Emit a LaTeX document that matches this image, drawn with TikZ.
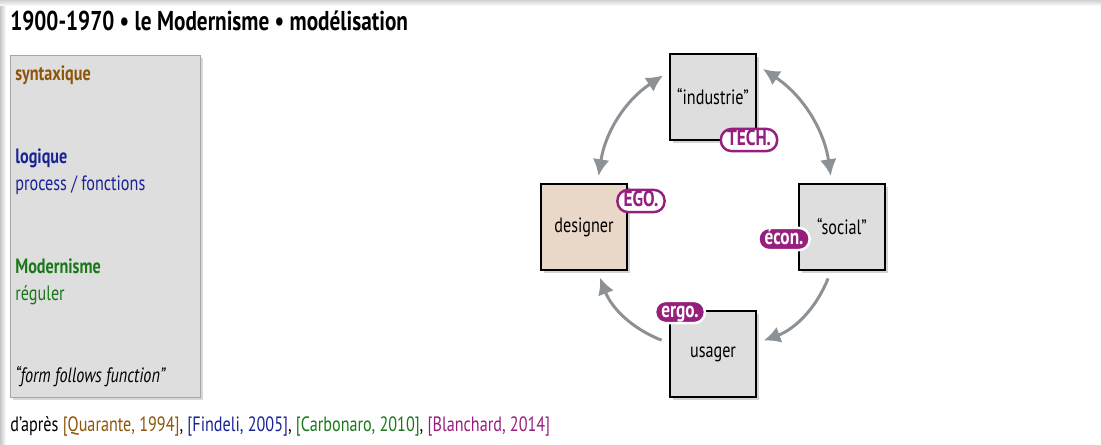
\documentclass[tikz,border=0pt]{standalone}
\usepackage{fontspec}
\setmainfont{PT Sans}[FakeStretch=0.78]
\usepackage{tikz}
\usetikzlibrary{arrows.meta,shadows}
\definecolor{mag}{RGB}{150,30,125}
\definecolor{brun}{RGB}{140,85,10}
\definecolor{bleu}{RGB}{25,35,150}
\definecolor{vert}{RGB}{25,120,25}
\definecolor{fleche}{RGB}{140,145,150}
\definecolor{boite}{RGB}{222,222,222}
\definecolor{beige}{RGB}{233,216,200}

\begin{document}
\begin{tikzpicture}[x=0.02cm,y=-0.02cm]

      \tikzstyle{acteur}=[draw=black,line width=1.2pt,fill=boite,minimum size=1.72cm,inner sep=0pt,
        font=\fontsize{11.8}{13}\selectfont,drop shadow={opacity=0.35,shadow xshift=1.5pt,shadow yshift=-1.5pt}]
      \tikzstyle{pastille}=[draw=mag,line width=1.4pt,fill=white,text=mag,rounded corners=6pt,
        inner xsep=3.5pt,inner ysep=2pt,text height=0.72em,text depth=0.14em,
        font=\fontsize{12.6}{13}\bfseries\selectfont]
      \tikzstyle{pleine}=[pastille,draw=white,fill=mag,text=white]
      \tikzstyle{texte}=[anchor=base west,inner sep=0pt,font=\fontsize{11.8}{13}\selectfont]
      \tikzstyle{lien}=[draw=fleche,line width=1.7pt,shorten <=4.5pt,shorten >=4pt,
        arrows={-Latex[length=9.5pt,width=9.5pt]}]

  \useasboundingbox (0,0) rectangle (1101,444);
  % bords de la diapo
  \shade[top color=black!18,bottom color=white] (0,0) rectangle (1101,6);
  \shade[left color=black!22,right color=white] (0,6) rectangle (6,444);

  \node[texte,font=\fontsize{15.5}{18}\bfseries\selectfont] (titre) at (10,30)
    {1900-1970 • le Modernisme • modélisation};

  % colonne de gauche
  \node[draw=black!35,fill=boite,minimum width=3.8cm,minimum height=6.84cm,inner sep=0pt,anchor=north west,
    drop shadow={opacity=0.3,shadow xshift=1.5pt,shadow yshift=-1.5pt}] (colonne) at (10,55) {};
  \node[texte,text=brun,font=\fontsize{11.8}{13}\bfseries\selectfont] (syntaxique) at (15,80) {syntaxique};
  \node[texte,text=bleu,font=\fontsize{11.8}{13}\bfseries\selectfont] (logique) at (15,163) {logique};
  \node[texte,text=bleu] (process) at (15,190) {process / fonctions};
  \node[texte,text=vert,font=\fontsize{11.8}{13}\bfseries\selectfont] (modernisme) at (15,273) {Modernisme};
  \node[texte,text=vert] (reguler) at (15,300) {réguler};
  \node[texte,font=\fontsize{11.8}{13}\itshape\selectfont] (ffb) at (15,382) {“form follows function”};

  \node[texte] (sources) at (10,431)
    {d’après \textcolor{brun}{[Quarante, 1994]}, \textcolor{bleu}{[Findeli, 2005]}, \textcolor{vert}{[Carbonaro, 2010]}, \textcolor{mag}{[Blanchard, 2014]}};

  % le cycle
  \node[acteur] (industrie) at (713,97)  {“industrie”};
  \node[acteur,fill=beige] (designer) at (584,227) {designer};
  \node[acteur] (social)    at (842,227) {“social”};
  \node[acteur] (usager)    at (713,354) {usager};

  \draw[lien,arrows={Latex[length=9.5pt,width=9.5pt]-Latex[length=9.5pt,width=9.5pt]},shorten <=4pt] (industrie.150) to[bend right=24] (designer.73);
  \draw[lien,arrows={Latex[length=9.5pt,width=9.5pt]-Latex[length=9.5pt,width=9.5pt]},shorten <=4pt] (industrie.36) to[bend left=24] (social.103);
  \draw[lien] (social.256) to[bend left=24] (usager.14);
  \draw[lien] (usager.166) to[bend left=24] (designer.287);

  \node[pastille] (tech) at (749,140) {TECH.};
  \node[pastille] (ego)  at (641,201) {EGO.};
  \node[pleine]   (econ) at (784,239) {écon.};
  \node[pleine]   (ergo) at (680,312) {ergo.};

\end{tikzpicture}
\end{document}
